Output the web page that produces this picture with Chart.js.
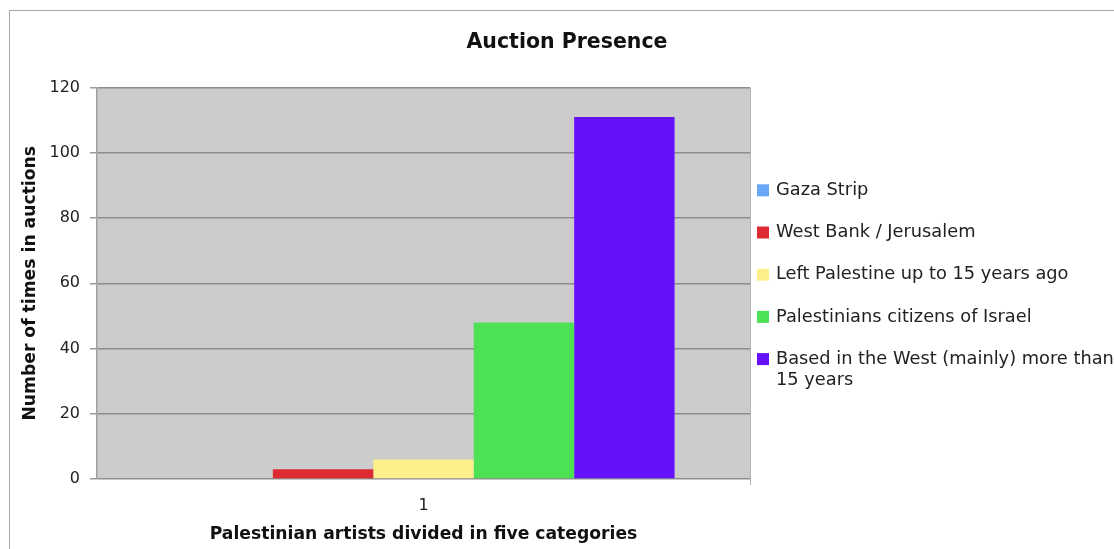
<!DOCTYPE html>
<html><head><meta charset="utf-8">
<script src="https://cdn.jsdelivr.net/npm/chart.js@4/dist/chart.umd.min.js"></script>
<style>
html,body{margin:0;padding:0;background:#fff;overflow:hidden;width:1114px;height:549px;}
#frame{position:absolute;left:9px;top:10px;width:1200px;height:600px;border:1px solid #a9a9a9;}
#wrap{position:absolute;left:0;top:0;width:1134px;height:549px;}
</style></head><body>
<div id="frame"></div>
<div id="wrap"><canvas id="c"></canvas></div>
<script>
const categories = ['1'];
const seriesNames = ['Gaza Strip', 'West Bank / Jerusalem', 'Left Palestine up to 15 years ago', 'Palestinians citizens of Israel', 'Based in the West (mainly) more than 15 years'];
const seriesValues = [[0], [3], [6], [48], [111]];
const seriesColors = ['#68a8f7', '#de2a32', '#fdf08a', '#4de256', '#6511fb'];
const yMin = 0, yMax = 120, yStep = 20;
const chartTitle = 'Auction Presence';
const xTitle = 'Palestinian artists divided in five categories';
const yTitle = 'Number of times in auctions';

const FONT = "'DejaVu Sans', Verdana, sans-serif";

const plotBg = {
  id: 'plotBg',
  beforeDraw(chart) {
    const {ctx, chartArea: a} = chart;
    ctx.save();
    ctx.fillStyle = '#cccccc';
    ctx.fillRect(a.left, a.top, a.right - a.left, a.bottom - a.top);
    ctx.strokeStyle = '#b4b4b4';
    ctx.lineWidth = 1;
    ctx.beginPath();
    ctx.moveTo(a.right + 0.5, a.top);
    ctx.lineTo(a.right + 0.5, a.bottom + 6);
    ctx.stroke();
    ctx.restore();
  }
};

const sideLegend = {
  id: 'sideLegend',
  afterDraw(chart) {
    const {ctx, chartArea: a} = chart;
    const ds = chart.data.datasets;
    const boxX = a.right + 7, box = 12, textX = boxX + 19;
    const spacing = 42.2;
    const cy = (a.top + a.bottom) / 2;
    const y0 = cy - 93;
    ctx.save();
    ctx.font = '17.8px ' + FONT;
    ctx.textBaseline = 'middle';
    const maxW = 345;
    ds.forEach((d, i) => {
      const y = y0 + i * spacing;
      ctx.fillStyle = d.backgroundColor;
      ctx.fillRect(boxX, y - box / 2, box, box);
      ctx.fillStyle = '#222';
      const words = d.label.split(' ');
      const lines = [];
      let cur = '';
      words.forEach(w => {
        const t = cur ? cur + ' ' + w : w;
        if (ctx.measureText(t).width > maxW && cur) { lines.push(cur); cur = w; } else cur = t;
      });
      lines.push(cur);
      lines.forEach((ln, k) => ctx.fillText(ln, textX, y + k * 21));
    });
    ctx.restore();
  }
};

new Chart(document.getElementById('c'), {
  type: 'bar',
  data: {
    labels: categories,
    datasets: seriesNames.map((n, i) => ({
      label: n,
      data: seriesValues[i],
      backgroundColor: seriesColors[i],
      borderWidth: 0,
      barPercentage: 1.0,
      categoryPercentage: 0.769
    }))
  },
  options: {
    responsive: true,
    maintainAspectRatio: false,
    animation: false,
    layout: {padding: 0},
    plugins: {
      legend: {display: false},
      tooltip: {enabled: false},
      title: {
        display: true, text: chartTitle, color: '#111',
        font: {family: FONT, size: 20.5, weight: 'bold'},
        padding: {top: 30, bottom: 33}
      }
    },
    scales: {
      x: {
        grid: {display: false},
        border: {display: false},
        ticks: {color: '#222', font: {family: FONT, size: 16}, padding: 9},
        title: {display: true, text: xTitle, color: '#111', font: {family: FONT, size: 17.2, weight: 'bold'}, padding: {top: 0, bottom: 4}},
        afterFit(s) { s.height = 70; }
      },
      y: {
        min: yMin, max: yMax,
        ticks: {stepSize: yStep, color: '#222', font: {family: FONT, size: 16}, padding: 10},
        grid: {color: '#8d8d8d', lineWidth: 1.5, tickLength: 7, tickColor: '#9a9a9a'},
        border: {color: '#a0a0a0', width: 1.5},
        title: {display: true, text: yTitle, color: '#111', font: {family: FONT, size: 17.2, weight: 'bold'}, padding: {top: 20, bottom: 0}},
        afterFit(s) { s.width = 97; }
      },
      spacer: {
        type: 'linear', position: 'right', display: true,
        grid: {display: false}, border: {display: false},
        ticks: {display: false},
        afterFit(s) { s.width = 384; }
      }
    }
  },
  plugins: [plotBg, sideLegend]
});
</script>
</body></html>
